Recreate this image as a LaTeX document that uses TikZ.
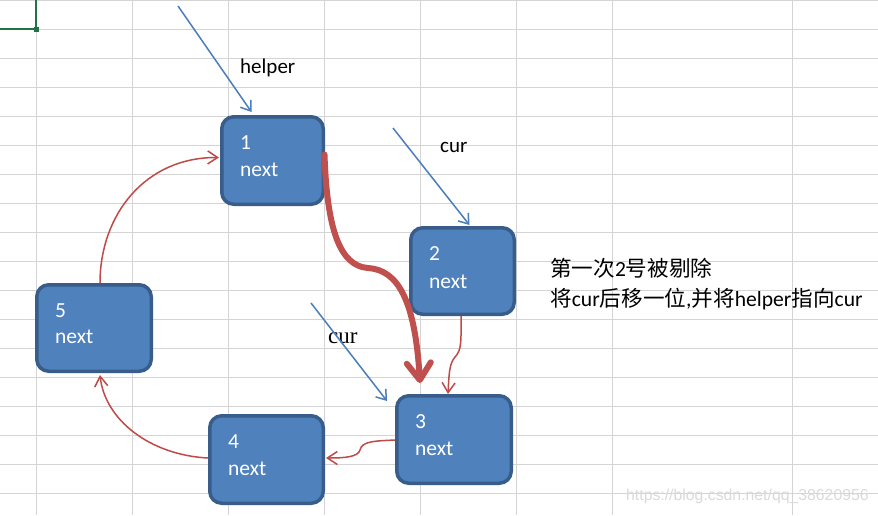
\documentclass[tikz,border=0pt]{standalone}
\usepackage{fontspec}
\setmainfont{Carlito}
\newfontfamily\cjk{Noto Sans CJK SC}
\newfontfamily\curserif{Liberation Serif}
\newfontfamily\wmfont{Liberation Sans}
\usetikzlibrary{arrows.meta,calc}

\definecolor{gridgray}{HTML}{D4D4D4}
\definecolor{boxfill}{HTML}{4F81BD}
\definecolor{boxedge}{HTML}{385D8A}
\definecolor{ptrblue}{HTML}{4A7EBB}
\definecolor{linkred}{HTML}{BE4B48}
\definecolor{movered}{HTML}{C0504D}
\definecolor{cellgreen}{HTML}{217346}
\definecolor{wmgray}{HTML}{DADADA}

\tikzset{
  gridline/.style={draw=gridgray, line width=1pt},
  listnode/.style={draw=boxedge, fill=boxfill, line width=3.5pt,
    rounded corners=12pt, inner sep=0pt},
  nodetext/.style={anchor=base west, inner sep=0pt, text=white,
    font=\fontsize{21.5}{24}\selectfont},
  ptrlabel/.style={anchor=base west, inner sep=0pt, text=black,
    font=\fontsize{21}{24}\selectfont},
  pointer/.style={draw=ptrblue, line width=1.5pt,
    -{Straight Barb[length=9pt,width=13pt]}},
  link/.style={draw=linkred, line width=1.5pt,
    -{Straight Barb[length=10pt,width=13pt]}},
  move/.style={draw=movered, line width=6pt, line cap=round,
    -{Straight Barb[length=17pt,width=24pt,line cap=round,line join=round]}},
}

\begin{document}
\begin{tikzpicture}[x=1pt,y=-1pt]
\useasboundingbox (0,0) rectangle (878,515);
\fill[white] (0,0) rectangle (878,515);

% spreadsheet grid
\foreach \x in {36,132,228,324,420,516,612,792}
  \draw[gridline] (\x,0) -- (\x,515);
\foreach \k in {0,...,17}
  \draw[gridline] (0,0.5+29*\k) -- (878,0.5+29*\k);

% selected cell
\draw[cellgreen, line width=2pt] (0,29) -- (36,29) -- (36,0);
\fill[cellgreen] (33.5,26.5) rectangle (38.5,31.5);

% list nodes
\node[listnode, minimum width=101.5pt, minimum height=87.5pt] (n1) at (272.5,160.5) {};
\node[listnode, minimum width=103.5pt, minimum height=86.5pt] (n2) at (462.5,271) {};
\node[listnode, minimum width=114.5pt, minimum height=87.5pt] (n3) at (454,439.5) {};
\node[listnode, minimum width=113.5pt, minimum height=87.5pt] (n4) at (266.5,459.5) {};
\node[listnode, minimum width=114.5pt, minimum height=86.5pt] (n5) at (94,328) {};

\node[nodetext] (t1a) at (240,149) {1};
\node[nodetext] (t1b) at (240,176) {next};
\node[nodetext] (t2a) at (429,260) {2};
\node[nodetext] (t2b) at (429,288) {next};
\node[nodetext] (t3a) at (415,428) {3};
\node[nodetext] (t3b) at (415,455) {next};
\node[nodetext] (t4a) at (228,448) {4};
\node[nodetext] (t4b) at (228,475) {next};
\node[nodetext] (t5a) at (55,317) {5};
\node[nodetext] (t5b) at (55,343) {next};

% pointer labels
\node[ptrlabel] (lhelper) at (240,73) {helper};
\node[ptrlabel] (lcur) at (440,152) {cur};
\node[anchor=base west, inner sep=0pt, font=\curserif\fontsize{23}{26}\selectfont] (lcur2) at (328,343) {cur};

% pointer arrows
\coordinate (helperTail) at (178,6);
\coordinate (curTail) at (393,128);
\coordinate (cur2Tail) at (311,303);
\draw[pointer] (helperTail) -- ($(n1.north)+(-21,-3)$);
\draw[pointer] (curTail) -- ($(n2.north)+(7,-1)$);
\draw[pointer] (cur2Tail) -- ($(n3.north west)+(-8,7)$);

% next links
\draw[link] ($(n5.north)+(6,0)$) .. controls (100,215) and (145,157) .. ($(n1.west)+(-1,-3)$);
\draw[link] ($(n4.west)+(0,-1.5)$) .. controls (150,455) and (105,420) .. ($(n5.south)+(6,2)$);
\draw[link] ($(n2.south)+(-1.5,0)$) .. controls (461,340) and (462,350) .. (455,357)
  .. controls (449,364) and (449,375) .. ($(n3.north)+(-6,0)$);
\draw[link] ($(n3.west)+(0,0.5)$) .. controls (375,441) and (362,441) .. (360,450)
  .. controls (358,457) and (345,458) .. ($(n4.east)+(1,-1.5)$);

% helper.next moves from node 2 to node 3
\draw[move] ($(n1.east)+(-0.5,-6)$) .. controls (327,230) and (340,266) .. (368,268)
  .. controls (398,270) and (415,300) .. ($(n3.north)+(-34,-11)$);

% note
\node[anchor=base west, inner sep=0pt, font=\fontsize{21.6}{24}\selectfont] (note1) at (550,276)
  {{\cjk 第一次}2{\cjk 号被剔除}};
\node[anchor=base west, inner sep=0pt, font=\fontsize{21.6}{24}\selectfont] (note2) at (550,306)
  {{\cjk 将}cur{\cjk 后移一位},{\cjk 并将}helper{\cjk 指向}cur};

% watermark
\node[anchor=base west, inner sep=0pt, text=wmgray, font=\wmfont\fontsize{15.8}{19}\selectfont] (wm) at (626,500)
  {https://blog.csdn.net/qq\_38620956};
\end{tikzpicture}
\end{document}
